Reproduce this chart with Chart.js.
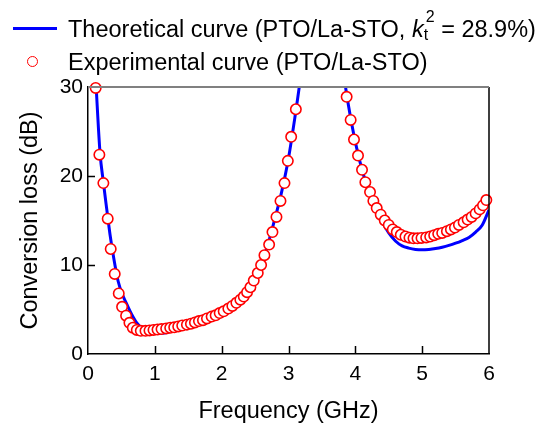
<!DOCTYPE html>
<html>
<head>
<meta charset="utf-8">
<script src="https://cdn.jsdelivr.net/npm/chart.js@4.4.1/dist/chart.umd.min.js"></script>
<style>
    body { margin: 0; background: #fff; }
    #wrap { position: relative; width: 549px; height: 426px; font-family: "Liberation Sans", Arial, sans-serif; }
    #legend .row { position: absolute; left: 0; height: 28px; line-height: 28px; font-size: 23.5px; color: #000; white-space: nowrap; }
    #legend .txt { position: absolute; left: 68px; top: 0; }
    #legend .mline { position: absolute; left: 13px; top: 14px; width: 44px; height: 3px; background: #0000ff; }
    #legend .mdot { position: absolute; left: 27px; top: 8px; width: 9px; height: 9px; border: 1.6px solid #ff0000; border-radius: 50%; background: #fff; }
    #legend .ss { display: inline-block; position: relative; width: 11px; height: 1em; }
    #legend .ss span { position: absolute; font-size: 16px; line-height: 1; }
    #legend .sp { left: 2px; top: -4px; }
    #legend .sb { left: 0; top: 14px; }
</style>
</head>
<body>
<div id="wrap">
    <canvas id="chart"></canvas>
    <div id="legend">
        <div class="row" style="top:13px"><span class="mline"></span><span class="txt">Theoretical curve (PTO/La-STO, <i>k</i><span class="ss"><span class="sp">2</span><span class="sb">t</span></span> = 28.9%)</span></div>
        <div class="row" style="top:48px"><span class="mdot"></span><span class="txt">Experimental curve (PTO/La-STO)</span></div>
    </div>
</div>
<script>
// experimental points (frequency in GHz, loss in dB)
const expFreq = [0.115, 0.17, 0.23, 0.295, 0.34, 0.40, 0.46, 0.51, 0.57, 0.62, 0.67, 0.73, 0.79, 0.86, 0.92, 0.98,
    1.04, 1.10, 1.17, 1.23, 1.29, 1.35, 1.41, 1.48, 1.54, 1.60, 1.66, 1.72, 1.78, 1.85, 1.91, 1.97,
    2.03, 2.10, 2.16, 2.22, 2.28, 2.33, 2.38, 2.43, 2.48, 2.54, 2.59, 2.64, 2.71, 2.76, 2.82, 2.88,
    2.94, 2.99, 3.04, 3.11,
    3.87, 3.93, 3.98, 4.04, 4.10, 4.15, 4.22, 4.27, 4.32, 4.38, 4.44, 4.50, 4.56, 4.62, 4.68, 4.75,
    4.81, 4.87, 4.93, 4.99, 5.06, 5.12, 5.18, 5.24, 5.30, 5.37, 5.43, 5.49, 5.55, 5.62, 5.68, 5.74,
    5.80, 5.86, 5.91, 5.96];
const expLoss = [29.9, 22.4, 19.2, 15.2, 11.8, 9.0, 6.8, 5.3, 4.3, 3.5, 2.95, 2.7, 2.6, 2.6, 2.65, 2.7,
    2.75, 2.8, 2.87, 2.95, 3.0, 3.1, 3.2, 3.3, 3.4, 3.55, 3.7, 3.8, 4.0, 4.2, 4.35, 4.6,
    4.8, 5.1, 5.4, 5.75, 6.1, 6.45, 6.95, 7.5, 8.25, 9.1, 10.0, 11.1, 12.3, 13.7, 15.4, 17.2,
    19.2, 21.7, 24.4, 27.5,
    28.9, 26.3, 24.1, 22.3, 20.7, 19.3, 18.2, 17.2, 16.4, 15.65, 15.0, 14.5, 14.0, 13.7, 13.4, 13.2,
    13.07, 13.0, 13.0, 13.04, 13.1, 13.2, 13.35, 13.5, 13.6, 13.8, 14.0, 14.2, 14.5, 14.8, 15.1, 15.4,
    15.8, 16.25, 16.7, 17.3];

// theoretical curve (goes off the top between ~3.2 and ~3.85 GHz)
const theoFreq = [0.10, 0.12, 0.18, 0.23, 0.28, 0.33, 0.38, 0.45, 0.52, 0.58, 0.65, 0.73, 0.83, 0.92, 1.0,
    1.1, 1.2, 1.3, 1.4, 1.5, 1.6, 1.7, 1.8, 1.9, 2.0, 2.2, 2.4, 2.6, 2.8, 2.9, 3.0, 3.1, 3.17, 3.22,
    3.5,
    3.80, 3.85, 3.9, 4.0, 4.1, 4.2, 4.3, 4.4, 4.5, 4.6, 4.7, 4.8, 4.9, 5.0, 5.1, 5.2, 5.3, 5.4, 5.5,
    5.6, 5.7, 5.8, 5.9, 6.0];
const theoLoss = [33.0, 30.3, 22.6, 19.3, 16.3, 13.4, 11.0, 8.2, 6.6, 5.6, 4.5, 3.5, 2.75, 2.45, 2.35,
    2.33, 2.45, 2.7, 3.05, 3.3, 3.55, 3.8, 4.05, 4.35, 4.65, 5.6, 7.2, 10.1, 15.3, 18.3, 22.0, 26.8, 30.5, 33.5,
    60,
    33.5, 30.2, 27.8, 23.8, 20.7, 18.3, 16.5, 14.9, 13.6, 12.7, 12.15, 11.9, 11.75, 11.7, 11.75, 11.85, 12.0, 12.2, 12.45,
    12.75, 13.1, 13.7, 14.5, 16.2];

const xTicks = [0, 1, 2, 3, 4, 5, 6];
const yTicks = [0, 10, 20, 30];

const toPoints = (xs, ys) => xs.map((x, i) => ({ x: x, y: ys[i] }));

// closed frame (gray top, black right) and inward ticks
const framePlugin = {
    id: 'frame',
    afterDraw(chart) {
        const ctx = chart.ctx;
        const a = chart.chartArea;
        const xs = chart.scales.x;
        const ys = chart.scales.y;
        ctx.save();
        ctx.lineWidth = 1.5;
        ctx.strokeStyle = '#000';
        ctx.beginPath();
        xTicks.slice(1, -1).forEach(v => {
            const px = Math.round(xs.getPixelForValue(v)) + 0.5;
            ctx.moveTo(px, a.bottom);
            ctx.lineTo(px, a.bottom - 8);
        });
        yTicks.slice(1, -1).forEach(v => {
            const py = Math.round(ys.getPixelForValue(v)) + 0.5;
            ctx.moveTo(a.left, py);
            ctx.lineTo(a.left + 7, py);
        });
        ctx.moveTo(a.right, a.top);
        ctx.lineTo(a.right, a.bottom);
        ctx.stroke();
        ctx.strokeStyle = '#808080';
        ctx.lineWidth = 2;
        ctx.beginPath();
        ctx.moveTo(a.left, a.top);
        ctx.lineTo(a.right, a.top);
        ctx.stroke();
        ctx.restore();
    }
};

const fontFamily = '"Liberation Sans", Arial, sans-serif';
const tickFont = { family: fontFamily, size: 21 };
const titleFont = { family: fontFamily, size: 23.5 };

new Chart(document.getElementById('chart'), {
    type: 'scatter',
    data: {
        datasets: [{
            label: 'Experimental curve (PTO/La-STO)',
            data: toPoints(expFreq, expLoss),
            pointRadius: 5.2,
            pointBorderWidth: 1.6,
            borderColor: '#ff0000',
            backgroundColor: '#ffffff',
            clip: false
        }, {
            label: 'Theoretical curve',
            data: toPoints(theoFreq, theoLoss),
            showLine: true,
            cubicInterpolationMode: 'monotone',
            pointRadius: 0,
            borderWidth: 3,
            borderColor: '#0000ff',
            clip: 0
        }]
    },
    options: {
        responsive: true,
        maintainAspectRatio: false,
        animation: false,
        events: [],
        layout: { padding: { top: 87, right: 60, left: 0, bottom: 0 } },
        plugins: {
            legend: { display: false },
            tooltip: { enabled: false }
        },
        scales: {
            x: {
                type: 'linear',
                min: 0,
                max: 6,
                afterFit: s => { s.height = 72; },
                afterBuildTicks: s => { s.ticks = xTicks.map(v => ({ value: v })); },
                grid: { display: false, drawTicks: false },
                border: { display: true, color: '#000', width: 1.5 },
                ticks: { color: '#000', font: tickFont, padding: 8, maxRotation: 0 },
                title: { display: true, text: 'Frequency (GHz)', color: '#000', font: titleFont, padding: { top: 0, bottom: 0 } }
            },
            y: {
                min: 0,
                max: 30,
                afterFit: s => { s.width = 88; },
                afterBuildTicks: s => { s.ticks = yTicks.map(v => ({ value: v })); },
                grid: { display: false, drawTicks: false },
                border: { display: true, color: '#000', width: 1.5 },
                ticks: { color: '#000', font: tickFont, padding: 5 },
                title: { display: true, text: 'Conversion loss (dB)', color: '#000', font: titleFont, padding: { top: 16, bottom: 0 } }
            }
        }
    },
    plugins: [framePlugin]
});
</script>
</body>
</html>
